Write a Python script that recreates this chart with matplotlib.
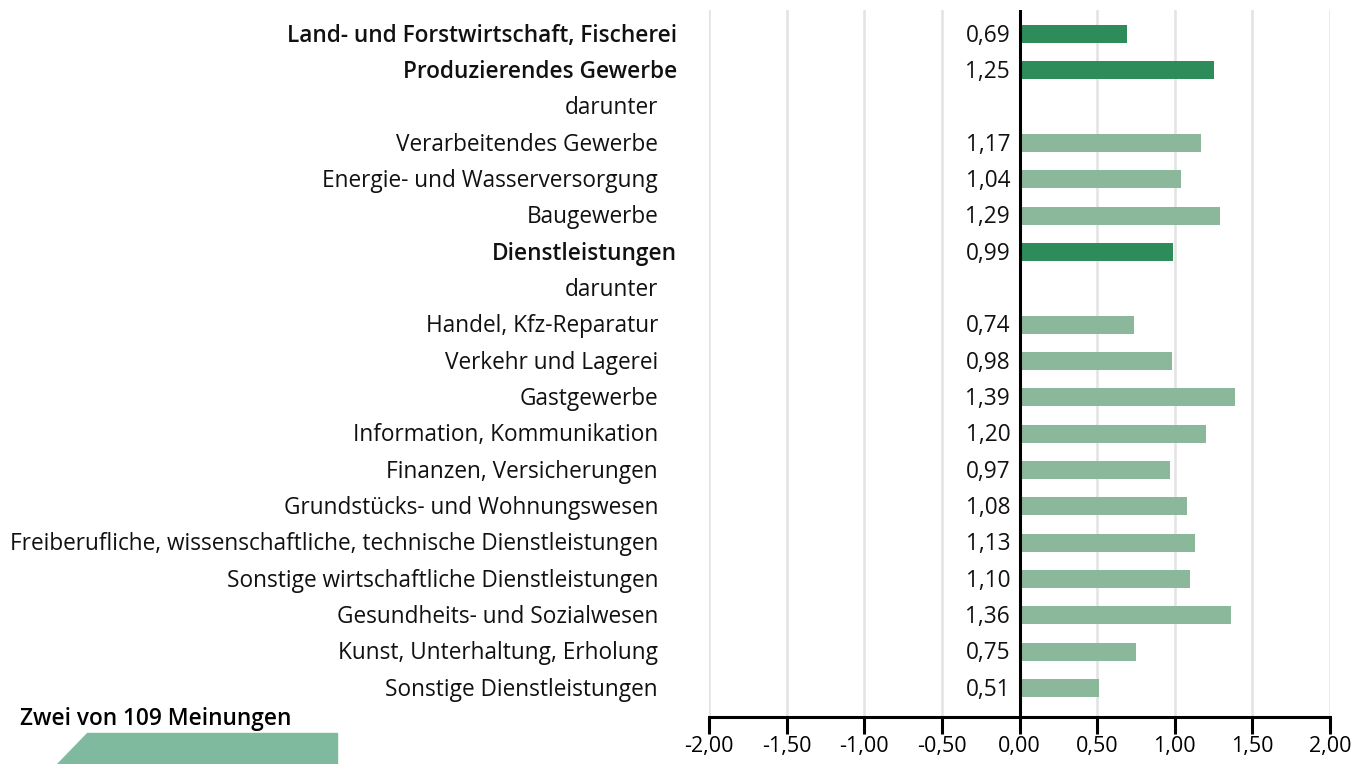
import matplotlib.pyplot as plt
from matplotlib.patches import Polygon

# Daten
labels = ['Land- und Forstwirtschaft, Fischerei', 'Produzierendes Gewerbe', 'darunter',
          'Verarbeitendes Gewerbe', 'Energie- und Wasserversorgung', 'Baugewerbe',
          'Dienstleistungen', 'darunter', 'Handel, Kfz-Reparatur', 'Verkehr und Lagerei',
          'Gastgewerbe', 'Information, Kommunikation', 'Finanzen, Versicherungen',
          'Grundstücks- und Wohnungswesen',
          'Freiberufliche, wissenschaftliche, technische Dienstleistungen',
          'Sonstige wirtschaftliche Dienstleistungen', 'Gesundheits- und Sozialwesen',
          'Kunst, Unterhaltung, Erholung', 'Sonstige Dienstleistungen']
values = [0.69, 1.25, None, 1.17, 1.04, 1.29, 0.99, None, 0.74, 0.98, 1.39, 1.20,
          0.97, 1.08, 1.13, 1.10, 1.36, 0.75, 0.51]
bold = [True, True, False, False, False, False, True, False, False, False, False,
        False, False, False, False, False, False, False, False]
ticks = [-2.0, -1.5, -1.0, -0.5, 0.0, 0.5, 1.0, 1.5, 2.0]

dark = '#2e8b5a'
light = '#8bb89b'
fs = 16.3

plt.rcParams['font.family'] = ['Open Sans', 'DejaVu Sans']

fig = plt.figure(figsize=(13.65, 7.64), dpi=100)
ax = fig.add_axes([709 / 1365, 1 - 717 / 764, 621 / 1365, 707 / 764])

n = len(labels)
for i in range(n):
    if values[i] is not None:
        ax.barh(i, values[i], height=0.5, color=dark if bold[i] else light, zorder=3)
        ax.text(-0.06, i + 0.05, f'{values[i]:.2f}'.replace('.', ','), ha='right',
                va='center', fontsize=fs, color='#111111')
    # Kategorienbeschriftung links vom Diagramm
    x_lab = -2.0 - 32 / 155.25 if bold[i] else -2.0 - 51 / 155.25
    ax.text(x_lab, i + 0.05, labels[i], ha='right', va='center', fontsize=fs,
            fontweight='semibold' if bold[i] else 'normal', color='#111111',
            clip_on=False)

ax.set_xlim(-2, 2)
ax.set_ylim(18.8, -0.66)
ax.set_yticks([])
ax.set_xticks(ticks)
ax.set_xticklabels([f'{t:.2f}'.replace('.', ',') for t in ticks], fontsize=15.5)
ax.tick_params(axis='x', length=12, width=2.2, pad=2, color='black')
for t in ticks:
    if t != 0:
        ax.axvline(t, color='#e3e3e3', lw=1.8, zorder=1)
ax.axvline(0, color='black', lw=2.2, zorder=4)

for s in ['top', 'right', 'left']:
    ax.spines[s].set_visible(False)
ax.spines['bottom'].set_linewidth(2.2)

# Fußzeile mit Logo-Streifen
fig.text(20 / 1365, 1 - 719 / 764, 'Zwei von 109 Meinungen', fontsize=fs,
         fontweight='semibold', va='center', ha='left')
poly = Polygon([(87 / 1365, 1 - 733 / 764), (337 / 1365, 1 - 733 / 764),
                (337 / 1365, 0), (57 / 1365, 0)], closed=True,
               transform=fig.transFigure, color='#80ba9e')
fig.patches.append(poly)

fig.savefig('out.png', dpi=100)
